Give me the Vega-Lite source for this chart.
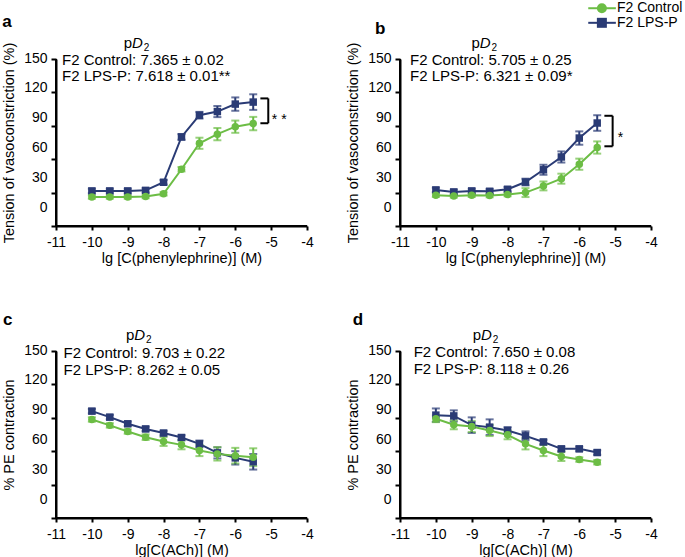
{
  "$schema": "https://vega.github.io/schema/vega-lite/v6.json",
  "padding": 0,
  "background": "white",
  "datasets": {
    "resp": [
      {"panel":"a","group":"F2 LPS-P","conc":-10,"mean":31.5,"sem":2},
      {"panel":"a","group":"F2 LPS-P","conc":-9.5,"mean":31.5,"sem":2},
      {"panel":"a","group":"F2 LPS-P","conc":-9,"mean":31.5,"sem":2},
      {"panel":"a","group":"F2 LPS-P","conc":-8.5,"mean":32,"sem":2},
      {"panel":"a","group":"F2 LPS-P","conc":-8,"mean":39.3,"sem":2},
      {"panel":"a","group":"F2 LPS-P","conc":-7.5,"mean":80,"sem":2.5},
      {"panel":"a","group":"F2 LPS-P","conc":-7,"mean":99.5,"sem":3},
      {"panel":"a","group":"F2 LPS-P","conc":-6.5,"mean":102.8,"sem":5},
      {"panel":"a","group":"F2 LPS-P","conc":-6,"mean":109.5,"sem":6},
      {"panel":"a","group":"F2 LPS-P","conc":-5.5,"mean":111.3,"sem":7},
      {"panel":"a","group":"F2 Control","conc":-10,"mean":26,"sem":1.5},
      {"panel":"a","group":"F2 Control","conc":-9.5,"mean":26,"sem":1.5},
      {"panel":"a","group":"F2 Control","conc":-9,"mean":26,"sem":1.5},
      {"panel":"a","group":"F2 Control","conc":-8.5,"mean":26.4,"sem":1.5},
      {"panel":"a","group":"F2 Control","conc":-8,"mean":28.9,"sem":1.5},
      {"panel":"a","group":"F2 Control","conc":-7.5,"mean":51,"sem":2},
      {"panel":"a","group":"F2 Control","conc":-7,"mean":74.3,"sem":5},
      {"panel":"a","group":"F2 Control","conc":-6.5,"mean":82.5,"sem":5.5},
      {"panel":"a","group":"F2 Control","conc":-6,"mean":89.2,"sem":5.5},
      {"panel":"a","group":"F2 Control","conc":-5.5,"mean":92,"sem":6},
      {"panel":"b","group":"F2 LPS-P","conc":-10,"mean":32.4,"sem":2},
      {"panel":"b","group":"F2 LPS-P","conc":-9.5,"mean":30.6,"sem":2},
      {"panel":"b","group":"F2 LPS-P","conc":-9,"mean":31.5,"sem":2},
      {"panel":"b","group":"F2 LPS-P","conc":-8.5,"mean":31.2,"sem":2},
      {"panel":"b","group":"F2 LPS-P","conc":-8,"mean":33,"sem":2},
      {"panel":"b","group":"F2 LPS-P","conc":-7.5,"mean":39.5,"sem":3},
      {"panel":"b","group":"F2 LPS-P","conc":-7,"mean":50.5,"sem":4.5},
      {"panel":"b","group":"F2 LPS-P","conc":-6.5,"mean":62,"sem":5},
      {"panel":"b","group":"F2 LPS-P","conc":-6,"mean":79,"sem":6},
      {"panel":"b","group":"F2 LPS-P","conc":-5.5,"mean":92.5,"sem":7},
      {"panel":"b","group":"F2 Control","conc":-10,"mean":27.6,"sem":1.5},
      {"panel":"b","group":"F2 Control","conc":-9.5,"mean":27,"sem":1.5},
      {"panel":"b","group":"F2 Control","conc":-9,"mean":27.6,"sem":1.5},
      {"panel":"b","group":"F2 Control","conc":-8.5,"mean":27.3,"sem":1.5},
      {"panel":"b","group":"F2 Control","conc":-8,"mean":28.2,"sem":1.5},
      {"panel":"b","group":"F2 Control","conc":-7.5,"mean":30,"sem":4},
      {"panel":"b","group":"F2 Control","conc":-7,"mean":36,"sem":4},
      {"panel":"b","group":"F2 Control","conc":-6.5,"mean":42.5,"sem":4.5},
      {"panel":"b","group":"F2 Control","conc":-6,"mean":55.5,"sem":5},
      {"panel":"b","group":"F2 Control","conc":-5.5,"mean":70.5,"sem":5.5},
      {"panel":"c","group":"F2 LPS-P","conc":-10,"mean":96,"sem":2},
      {"panel":"c","group":"F2 LPS-P","conc":-9.5,"mean":90.6,"sem":2},
      {"panel":"c","group":"F2 LPS-P","conc":-9,"mean":84.6,"sem":2},
      {"panel":"c","group":"F2 LPS-P","conc":-8.5,"mean":80,"sem":2},
      {"panel":"c","group":"F2 LPS-P","conc":-8,"mean":76.3,"sem":2},
      {"panel":"c","group":"F2 LPS-P","conc":-7.5,"mean":72.3,"sem":2},
      {"panel":"c","group":"F2 LPS-P","conc":-7,"mean":66.6,"sem":3},
      {"panel":"c","group":"F2 LPS-P","conc":-6.5,"mean":58.5,"sem":5},
      {"panel":"c","group":"F2 LPS-P","conc":-6,"mean":54,"sem":6},
      {"panel":"c","group":"F2 LPS-P","conc":-5.5,"mean":50.5,"sem":7},
      {"panel":"c","group":"F2 Control","conc":-10,"mean":88.5,"sem":2},
      {"panel":"c","group":"F2 Control","conc":-9.5,"mean":83.2,"sem":2},
      {"panel":"c","group":"F2 Control","conc":-9,"mean":77.7,"sem":2},
      {"panel":"c","group":"F2 Control","conc":-8.5,"mean":72.6,"sem":2.5},
      {"panel":"c","group":"F2 Control","conc":-8,"mean":68.7,"sem":4},
      {"panel":"c","group":"F2 Control","conc":-7.5,"mean":65.7,"sem":4},
      {"panel":"c","group":"F2 Control","conc":-7,"mean":60.6,"sem":5},
      {"panel":"c","group":"F2 Control","conc":-6.5,"mean":57.6,"sem":6},
      {"panel":"c","group":"F2 Control","conc":-6,"mean":56,"sem":7},
      {"panel":"c","group":"F2 Control","conc":-5.5,"mean":54.6,"sem":8},
      {"panel":"d","group":"F2 LPS-P","conc":-10,"mean":92.4,"sem":6},
      {"panel":"d","group":"F2 LPS-P","conc":-9.5,"mean":91.7,"sem":5},
      {"panel":"d","group":"F2 LPS-P","conc":-9,"mean":83.4,"sem":7},
      {"panel":"d","group":"F2 LPS-P","conc":-8.5,"mean":81.6,"sem":7},
      {"panel":"d","group":"F2 LPS-P","conc":-8,"mean":78.6,"sem":3},
      {"panel":"d","group":"F2 LPS-P","conc":-7.5,"mean":73.8,"sem":4},
      {"panel":"d","group":"F2 LPS-P","conc":-7,"mean":68.3,"sem":2},
      {"panel":"d","group":"F2 LPS-P","conc":-6.5,"mean":62.1,"sem":2},
      {"panel":"d","group":"F2 LPS-P","conc":-6,"mean":62.1,"sem":2},
      {"panel":"d","group":"F2 LPS-P","conc":-5.5,"mean":58.8,"sem":2},
      {"panel":"d","group":"F2 Control","conc":-10,"mean":89.1,"sem":3},
      {"panel":"d","group":"F2 Control","conc":-9.5,"mean":83.7,"sem":4},
      {"panel":"d","group":"F2 Control","conc":-9,"mean":82.2,"sem":5},
      {"panel":"d","group":"F2 Control","conc":-8.5,"mean":78.6,"sem":5},
      {"panel":"d","group":"F2 Control","conc":-8,"mean":74.7,"sem":4},
      {"panel":"d","group":"F2 Control","conc":-7.5,"mean":66.6,"sem":5},
      {"panel":"d","group":"F2 Control","conc":-7,"mean":60.6,"sem":5},
      {"panel":"d","group":"F2 Control","conc":-6.5,"mean":55.2,"sem":4},
      {"panel":"d","group":"F2 Control","conc":-6,"mean":52.5,"sem":2},
      {"panel":"d","group":"F2 Control","conc":-5.5,"mean":50.1,"sem":2}
    ]
  },
  "columns": 2,
  "spacing": {"row": 125, "column": 93},
  "bounds": "flush",
  "concat": [
    {
      "width": 251, "height": 167,
      "resolve": {"scale": {"x": "independent", "y": "independent"}, "axis": {"x": "independent", "y": "independent"}},
      "layer": [
        {"data": {"name": "resp"}, "transform": [{"filter": "datum.panel === 'a'"}],
         "mark": {"type": "line", "strokeWidth": 2},
         "encoding": {
           "x": {"field": "conc", "type": "quantitative", "scale": {"domain": [-11, -4]},
                 "axis": {"orient": "bottom", "zindex": 2, "values": [-11,-10,-9,-8,-7,-6,-5,-4], "labelExpr": "'' + datum.value", "title": "lg [C(phenylephrine)] (M)", "domain": true, "ticks": true, "grid": false, "domainColor": "#000000", "domainOpacity": 1, "domainWidth": 2, "tickColor": "#000000", "tickOpacity": 1, "tickWidth": 2, "tickSize": 4, "labelPadding": 5, "labelOverlap": false, "labelFlush": false, "titlePadding": 2}},
           "y": {"field": "mean", "type": "quantitative", "scale": {"domain": [0, 150]},
                 "axis": {"orient": "left", "zindex": 2, "values": [0,30,60,90,120,150], "title": "Tension of vasoconstriction (%)", "domain": true, "ticks": true, "grid": false, "domainColor": "#000000", "domainOpacity": 1, "domainWidth": 2, "tickColor": "#000000", "tickOpacity": 1, "tickWidth": 2, "tickSize": 5, "labelPadding": 4, "labelOverlap": false, "labelFlush": false, "titlePadding": 7, "labelOffset": {"expr": "-1 - (150 - datum.value) * 0.115"}}},
           "color": {"field": "group", "type": "nominal", "scale": {"domain": ["F2 Control", "F2 LPS-P"], "range": ["#6CBD45", "#2A3B75"]}, "legend": null}
         }},
        {"data": {"name": "resp"}, "transform": [{"filter": "datum.panel === 'a'"}],
         "mark": {"type": "errorbar", "ticks": true, "size": 8, "thickness": 2},
         "encoding": {
           "x": {"field": "conc", "type": "quantitative", "scale": {"domain": [-11, -4]}, "axis": null},
           "y": {"field": "mean", "type": "quantitative", "scale": {"domain": [0, 150]}, "axis": null},
           "yError": {"field": "sem"},
           "color": {"field": "group", "type": "nominal", "legend": null}
         }},
        {"data": {"name": "resp"}, "transform": [{"filter": "datum.panel === 'a'"}],
         "mark": {"type": "point", "filled": true, "size": 56, "opacity": 1},
         "encoding": {
           "x": {"field": "conc", "type": "quantitative", "scale": {"domain": [-11, -4]}, "axis": null},
           "y": {"field": "mean", "type": "quantitative", "scale": {"domain": [0, 150]}, "axis": null},
           "color": {"field": "group", "type": "nominal", "legend": null},
           "shape": {"field": "group", "type": "nominal", "scale": {"domain": ["F2 Control", "F2 LPS-P"], "range": ["circle", "square"]}, "legend": null}
         }},
        {"data": {"values": [{}]}, "mark": {"type": "text", "text": "a", "fontSize": 17, "fontWeight": "bold", "align": "left", "baseline": "alphabetic"},
         "encoding": {"x": {"datum": -12.5, "scale": {"domain": [-11, -4]}, "axis": null}, "y": {"datum": 178.5, "scale": {"domain": [0, 150]}, "axis": null}}},
        {"data": {"values": [{}]}, "mark": {"type": "text", "text": "p", "fontSize": 15, "align": "left", "baseline": "alphabetic"},
         "encoding": {"x": {"datum": -9.11, "scale": {"domain": [-11, -4]}, "axis": null}, "y": {"datum": 160, "scale": {"domain": [0, 150]}, "axis": null}}},
        {"data": {"values": [{}]}, "mark": {"type": "text", "text": "D", "fontSize": 15, "fontStyle": "italic", "align": "left", "baseline": "alphabetic"},
         "encoding": {"x": {"datum": -8.88, "scale": {"domain": [-11, -4]}, "axis": null}, "y": {"datum": 160, "scale": {"domain": [0, 150]}, "axis": null}}},
        {"data": {"values": [{}]}, "mark": {"type": "text", "text": "2", "fontSize": 10, "align": "left", "baseline": "alphabetic"},
         "encoding": {"x": {"datum": -8.55, "scale": {"domain": [-11, -4]}, "axis": null}, "y": {"datum": 157, "scale": {"domain": [0, 150]}, "axis": null}}},
        {"data": {"values": [{}]}, "mark": {"type": "text", "text": "F2 Control: 7.365 ± 0.02", "fontSize": 15, "align": "left", "baseline": "middle"},
         "encoding": {"x": {"datum": -10.83, "scale": {"domain": [-11, -4]}, "axis": null}, "y": {"datum": 149.4, "scale": {"domain": [0, 150]}, "axis": null}}},
        {"data": {"values": [{}]}, "mark": {"type": "text", "text": "F2 LPS-P: 7.618 ± 0.01**", "fontSize": 15, "align": "left", "baseline": "middle"},
         "encoding": {"x": {"datum": -10.83, "scale": {"domain": [-11, -4]}, "axis": null}, "y": {"datum": 134.4, "scale": {"domain": [0, 150]}, "axis": null}}},
        {"data": {"values": [{}]}, "mark": {"type": "rule", "color": "black", "strokeWidth": 2},
         "encoding": {"x": {"datum": -5.08, "scale": {"domain": [-11, -4]}, "axis": null}, "y": {"datum": 92.3, "scale": {"domain": [0, 150]}, "axis": null}, "y2": {"datum": 114.6}}},
        {"data": {"values": [{}]}, "mark": {"type": "rule", "color": "black", "strokeWidth": 2},
         "encoding": {"x": {"datum": -5.3, "scale": {"domain": [-11, -4]}, "axis": null}, "x2": {"datum": -5.08}, "y": {"datum": 114.6, "scale": {"domain": [0, 150]}, "axis": null}}},
        {"data": {"values": [{}]}, "mark": {"type": "rule", "color": "black", "strokeWidth": 2},
         "encoding": {"x": {"datum": -5.3, "scale": {"domain": [-11, -4]}, "axis": null}, "x2": {"datum": -5.08}, "y": {"datum": 92.3, "scale": {"domain": [0, 150]}, "axis": null}}},
        {"data": {"values": [{}]}, "mark": {"type": "text", "text": "* *", "fontSize": 14, "align": "left", "baseline": "alphabetic"},
         "encoding": {"x": {"datum": -4.98, "scale": {"domain": [-11, -4]}, "axis": null}, "y": {"datum": 92, "scale": {"domain": [0, 150]}, "axis": null}}}
      ]
    },
    {
      "width": 251, "height": 167,
      "resolve": {"scale": {"x": "independent", "y": "independent"}, "axis": {"x": "independent", "y": "independent"}},
      "layer": [
        {"data": {"name": "resp"}, "transform": [{"filter": "datum.panel === 'b'"}],
         "mark": {"type": "line", "strokeWidth": 2},
         "encoding": {
           "x": {"field": "conc", "type": "quantitative", "scale": {"domain": [-11, -4]},
                 "axis": {"orient": "bottom", "zindex": 2, "values": [-11,-10,-9,-8,-7,-6,-5,-4], "labelExpr": "'' + datum.value", "title": "lg [C(phenylephrine)] (M)", "domain": true, "ticks": true, "grid": false, "domainColor": "#000000", "domainOpacity": 1, "domainWidth": 2, "tickColor": "#000000", "tickOpacity": 1, "tickWidth": 2, "tickSize": 4, "labelPadding": 5, "labelOverlap": false, "labelFlush": false, "titlePadding": 2}},
           "y": {"field": "mean", "type": "quantitative", "scale": {"domain": [0, 150]},
                 "axis": {"orient": "left", "zindex": 2, "values": [0,30,60,90,120,150], "title": "Tension of vasoconstriction (%)", "domain": true, "ticks": true, "grid": false, "domainColor": "#000000", "domainOpacity": 1, "domainWidth": 2, "tickColor": "#000000", "tickOpacity": 1, "tickWidth": 2, "tickSize": 5, "labelPadding": 4, "labelOverlap": false, "labelFlush": false, "titlePadding": 7, "labelOffset": {"expr": "-1 - (150 - datum.value) * 0.115"}}},
           "color": {"field": "group", "type": "nominal", "scale": {"domain": ["F2 Control", "F2 LPS-P"], "range": ["#6CBD45", "#2A3B75"]}, "legend": null}
         }},
        {"data": {"name": "resp"}, "transform": [{"filter": "datum.panel === 'b'"}],
         "mark": {"type": "errorbar", "ticks": true, "size": 8, "thickness": 2},
         "encoding": {
           "x": {"field": "conc", "type": "quantitative", "scale": {"domain": [-11, -4]}, "axis": null},
           "y": {"field": "mean", "type": "quantitative", "scale": {"domain": [0, 150]}, "axis": null},
           "yError": {"field": "sem"},
           "color": {"field": "group", "type": "nominal", "legend": null}
         }},
        {"data": {"name": "resp"}, "transform": [{"filter": "datum.panel === 'b'"}],
         "mark": {"type": "point", "filled": true, "size": 56, "opacity": 1},
         "encoding": {
           "x": {"field": "conc", "type": "quantitative", "scale": {"domain": [-11, -4]}, "axis": null},
           "y": {"field": "mean", "type": "quantitative", "scale": {"domain": [0, 150]}, "axis": null},
           "color": {"field": "group", "type": "nominal", "legend": null},
           "shape": {"field": "group", "type": "nominal", "scale": {"domain": ["F2 Control", "F2 LPS-P"], "range": ["circle", "square"]}, "legend": null}
         }},
        {"data": {"values": [{}]}, "mark": {"type": "rule", "color": "#6CBD45", "strokeWidth": 2},
         "encoding": {"x": {"datum": -5.75, "scale": {"domain": [-11, -4]}, "axis": null}, "x2": {"datum": -4.98}, "y": {"datum": 195.6, "scale": {"domain": [0, 150]}, "axis": null}}},
        {"data": {"values": [{}]}, "mark": {"type": "point", "shape": "circle", "filled": true, "size": 100, "opacity": 1, "color": "#6CBD45"},
         "encoding": {"x": {"datum": -5.37, "scale": {"domain": [-11, -4]}, "axis": null}, "y": {"datum": 195.6, "scale": {"domain": [0, 150]}, "axis": null}}},
        {"data": {"values": [{}]}, "mark": {"type": "text", "text": "F2 Control", "fontSize": 14, "align": "left", "baseline": "middle"},
         "encoding": {"x": {"datum": -4.95, "scale": {"domain": [-11, -4]}, "axis": null}, "y": {"datum": 195.6, "scale": {"domain": [0, 150]}, "axis": null}}},
        {"data": {"values": [{}]}, "mark": {"type": "rule", "color": "#2A3B75", "strokeWidth": 2},
         "encoding": {"x": {"datum": -5.75, "scale": {"domain": [-11, -4]}, "axis": null}, "x2": {"datum": -4.98}, "y": {"datum": 182.5, "scale": {"domain": [0, 150]}, "axis": null}}},
        {"data": {"values": [{}]}, "mark": {"type": "point", "shape": "square", "filled": true, "size": 100, "opacity": 1, "color": "#2A3B75"},
         "encoding": {"x": {"datum": -5.37, "scale": {"domain": [-11, -4]}, "axis": null}, "y": {"datum": 182.5, "scale": {"domain": [0, 150]}, "axis": null}}},
        {"data": {"values": [{}]}, "mark": {"type": "text", "text": "F2 LPS-P", "fontSize": 14, "align": "left", "baseline": "middle"},
         "encoding": {"x": {"datum": -4.95, "scale": {"domain": [-11, -4]}, "axis": null}, "y": {"datum": 182.5, "scale": {"domain": [0, 150]}, "axis": null}}},
        {"data": {"values": [{}]}, "mark": {"type": "text", "text": "b", "fontSize": 17, "fontWeight": "bold", "align": "left", "baseline": "alphabetic"},
         "encoding": {"x": {"datum": -11.7, "scale": {"domain": [-11, -4]}, "axis": null}, "y": {"datum": 172.4, "scale": {"domain": [0, 150]}, "axis": null}}},
        {"data": {"values": [{}]}, "mark": {"type": "text", "text": "p", "fontSize": 15, "align": "left", "baseline": "alphabetic"},
         "encoding": {"x": {"datum": -9.006, "scale": {"domain": [-11, -4]}, "axis": null}, "y": {"datum": 160, "scale": {"domain": [0, 150]}, "axis": null}}},
        {"data": {"values": [{}]}, "mark": {"type": "text", "text": "D", "fontSize": 15, "fontStyle": "italic", "align": "left", "baseline": "alphabetic"},
         "encoding": {"x": {"datum": -8.775, "scale": {"domain": [-11, -4]}, "axis": null}, "y": {"datum": 160, "scale": {"domain": [0, 150]}, "axis": null}}},
        {"data": {"values": [{}]}, "mark": {"type": "text", "text": "2", "fontSize": 10, "align": "left", "baseline": "alphabetic"},
         "encoding": {"x": {"datum": -8.445, "scale": {"domain": [-11, -4]}, "axis": null}, "y": {"datum": 157, "scale": {"domain": [0, 150]}, "axis": null}}},
        {"data": {"values": [{}]}, "mark": {"type": "text", "text": "F2 Control: 5.705 ± 0.25", "fontSize": 15, "align": "left", "baseline": "middle"},
         "encoding": {"x": {"datum": -10.72, "scale": {"domain": [-11, -4]}, "axis": null}, "y": {"datum": 149.4, "scale": {"domain": [0, 150]}, "axis": null}}},
        {"data": {"values": [{}]}, "mark": {"type": "text", "text": "F2 LPS-P: 6.321 ± 0.09*", "fontSize": 15, "align": "left", "baseline": "middle"},
         "encoding": {"x": {"datum": -10.72, "scale": {"domain": [-11, -4]}, "axis": null}, "y": {"datum": 134.4, "scale": {"domain": [0, 150]}, "axis": null}}},
        {"data": {"values": [{}]}, "mark": {"type": "rule", "color": "black", "strokeWidth": 2},
         "encoding": {"x": {"datum": -5.07, "scale": {"domain": [-11, -4]}, "axis": null}, "y": {"datum": 71.6, "scale": {"domain": [0, 150]}, "axis": null}, "y2": {"datum": 99}}},
        {"data": {"values": [{}]}, "mark": {"type": "rule", "color": "black", "strokeWidth": 2},
         "encoding": {"x": {"datum": -5.3, "scale": {"domain": [-11, -4]}, "axis": null}, "x2": {"datum": -5.07}, "y": {"datum": 99, "scale": {"domain": [0, 150]}, "axis": null}}},
        {"data": {"values": [{}]}, "mark": {"type": "rule", "color": "black", "strokeWidth": 2},
         "encoding": {"x": {"datum": -5.3, "scale": {"domain": [-11, -4]}, "axis": null}, "x2": {"datum": -5.07}, "y": {"datum": 71.6, "scale": {"domain": [0, 150]}, "axis": null}}},
        {"data": {"values": [{}]}, "mark": {"type": "text", "text": "*", "fontSize": 14, "align": "left", "baseline": "alphabetic"},
         "encoding": {"x": {"datum": -4.93, "scale": {"domain": [-11, -4]}, "axis": null}, "y": {"datum": 75.2, "scale": {"domain": [0, 150]}, "axis": null}}}
      ]
    },
    {
      "width": 251, "height": 167,
      "resolve": {"scale": {"x": "independent", "y": "independent"}, "axis": {"x": "independent", "y": "independent"}},
      "layer": [
        {"data": {"name": "resp"}, "transform": [{"filter": "datum.panel === 'c'"}],
         "mark": {"type": "line", "strokeWidth": 2},
         "encoding": {
           "x": {"field": "conc", "type": "quantitative", "scale": {"domain": [-11, -4]},
                 "axis": {"orient": "bottom", "zindex": 2, "values": [-11,-10,-9,-8,-7,-6,-5,-4], "labelExpr": "'' + datum.value", "title": "lg[C(ACh)] (M)", "domain": true, "ticks": true, "grid": false, "domainColor": "#000000", "domainOpacity": 1, "domainWidth": 2, "tickColor": "#000000", "tickOpacity": 1, "tickWidth": 2, "tickSize": 4, "labelPadding": 5, "labelOverlap": false, "labelFlush": false, "titlePadding": 2}},
           "y": {"field": "mean", "type": "quantitative", "scale": {"domain": [0, 150]},
                 "axis": {"orient": "left", "zindex": 2, "values": [0,30,60,90,120,150], "title": "% PE contraction", "domain": true, "ticks": true, "grid": false, "domainColor": "#000000", "domainOpacity": 1, "domainWidth": 2, "tickColor": "#000000", "tickOpacity": 1, "tickWidth": 2, "tickSize": 5, "labelPadding": 4, "labelOverlap": false, "labelFlush": false, "titlePadding": 7, "labelOffset": {"expr": "-1 - (150 - datum.value) * 0.115"}}},
           "color": {"field": "group", "type": "nominal", "scale": {"domain": ["F2 Control", "F2 LPS-P"], "range": ["#6CBD45", "#2A3B75"]}, "legend": null}
         }},
        {"data": {"name": "resp"}, "transform": [{"filter": "datum.panel === 'c'"}],
         "mark": {"type": "errorbar", "ticks": true, "size": 8, "thickness": 2},
         "encoding": {
           "x": {"field": "conc", "type": "quantitative", "scale": {"domain": [-11, -4]}, "axis": null},
           "y": {"field": "mean", "type": "quantitative", "scale": {"domain": [0, 150]}, "axis": null},
           "yError": {"field": "sem"},
           "color": {"field": "group", "type": "nominal", "legend": null}
         }},
        {"data": {"name": "resp"}, "transform": [{"filter": "datum.panel === 'c'"}],
         "mark": {"type": "point", "filled": true, "size": 56, "opacity": 1},
         "encoding": {
           "x": {"field": "conc", "type": "quantitative", "scale": {"domain": [-11, -4]}, "axis": null},
           "y": {"field": "mean", "type": "quantitative", "scale": {"domain": [0, 150]}, "axis": null},
           "color": {"field": "group", "type": "nominal", "legend": null},
           "shape": {"field": "group", "type": "nominal", "scale": {"domain": ["F2 Control", "F2 LPS-P"], "range": ["circle", "square"]}, "legend": null}
         }},
        {"data": {"values": [{}]}, "mark": {"type": "text", "text": "c", "fontSize": 17, "fontWeight": "bold", "align": "left", "baseline": "alphabetic"},
         "encoding": {"x": {"datum": -12.48, "scale": {"domain": [-11, -4]}, "axis": null}, "y": {"datum": 173.2, "scale": {"domain": [0, 150]}, "axis": null}}},
        {"data": {"values": [{}]}, "mark": {"type": "text", "text": "p", "fontSize": 15, "align": "left", "baseline": "alphabetic"},
         "encoding": {"x": {"datum": -9.05, "scale": {"domain": [-11, -4]}, "axis": null}, "y": {"datum": 160, "scale": {"domain": [0, 150]}, "axis": null}}},
        {"data": {"values": [{}]}, "mark": {"type": "text", "text": "D", "fontSize": 15, "fontStyle": "italic", "align": "left", "baseline": "alphabetic"},
         "encoding": {"x": {"datum": -8.82, "scale": {"domain": [-11, -4]}, "axis": null}, "y": {"datum": 160, "scale": {"domain": [0, 150]}, "axis": null}}},
        {"data": {"values": [{}]}, "mark": {"type": "text", "text": "2", "fontSize": 10, "align": "left", "baseline": "alphabetic"},
         "encoding": {"x": {"datum": -8.49, "scale": {"domain": [-11, -4]}, "axis": null}, "y": {"datum": 157, "scale": {"domain": [0, 150]}, "axis": null}}},
        {"data": {"values": [{}]}, "mark": {"type": "text", "text": "F2 Control: 9.703 ± 0.22", "fontSize": 15, "align": "left", "baseline": "middle"},
         "encoding": {"x": {"datum": -10.79, "scale": {"domain": [-11, -4]}, "axis": null}, "y": {"datum": 148.5, "scale": {"domain": [0, 150]}, "axis": null}}},
        {"data": {"values": [{}]}, "mark": {"type": "text", "text": "F2 LPS-P: 8.262 ± 0.05", "fontSize": 15, "align": "left", "baseline": "middle"},
         "encoding": {"x": {"datum": -10.79, "scale": {"domain": [-11, -4]}, "axis": null}, "y": {"datum": 133, "scale": {"domain": [0, 150]}, "axis": null}}}
      ]
    },
    {
      "width": 251, "height": 167,
      "resolve": {"scale": {"x": "independent", "y": "independent"}, "axis": {"x": "independent", "y": "independent"}},
      "layer": [
        {"data": {"name": "resp"}, "transform": [{"filter": "datum.panel === 'd'"}],
         "mark": {"type": "line", "strokeWidth": 2},
         "encoding": {
           "x": {"field": "conc", "type": "quantitative", "scale": {"domain": [-11, -4]},
                 "axis": {"orient": "bottom", "zindex": 2, "values": [-11,-10,-9,-8,-7,-6,-5,-4], "labelExpr": "'' + datum.value", "title": "lg[C(ACh)] (M)", "domain": true, "ticks": true, "grid": false, "domainColor": "#000000", "domainOpacity": 1, "domainWidth": 2, "tickColor": "#000000", "tickOpacity": 1, "tickWidth": 2, "tickSize": 4, "labelPadding": 5, "labelOverlap": false, "labelFlush": false, "titlePadding": 2}},
           "y": {"field": "mean", "type": "quantitative", "scale": {"domain": [0, 150]},
                 "axis": {"orient": "left", "zindex": 2, "values": [0,30,60,90,120,150], "title": "% PE contraction", "domain": true, "ticks": true, "grid": false, "domainColor": "#000000", "domainOpacity": 1, "domainWidth": 2, "tickColor": "#000000", "tickOpacity": 1, "tickWidth": 2, "tickSize": 5, "labelPadding": 4, "labelOverlap": false, "labelFlush": false, "titlePadding": 7, "labelOffset": {"expr": "-1 - (150 - datum.value) * 0.115"}}},
           "color": {"field": "group", "type": "nominal", "scale": {"domain": ["F2 Control", "F2 LPS-P"], "range": ["#6CBD45", "#2A3B75"]}, "legend": null}
         }},
        {"data": {"name": "resp"}, "transform": [{"filter": "datum.panel === 'd'"}],
         "mark": {"type": "errorbar", "ticks": true, "size": 8, "thickness": 2},
         "encoding": {
           "x": {"field": "conc", "type": "quantitative", "scale": {"domain": [-11, -4]}, "axis": null},
           "y": {"field": "mean", "type": "quantitative", "scale": {"domain": [0, 150]}, "axis": null},
           "yError": {"field": "sem"},
           "color": {"field": "group", "type": "nominal", "legend": null}
         }},
        {"data": {"name": "resp"}, "transform": [{"filter": "datum.panel === 'd'"}],
         "mark": {"type": "point", "filled": true, "size": 56, "opacity": 1},
         "encoding": {
           "x": {"field": "conc", "type": "quantitative", "scale": {"domain": [-11, -4]}, "axis": null},
           "y": {"field": "mean", "type": "quantitative", "scale": {"domain": [0, 150]}, "axis": null},
           "color": {"field": "group", "type": "nominal", "legend": null},
           "shape": {"field": "group", "type": "nominal", "scale": {"domain": ["F2 Control", "F2 LPS-P"], "range": ["circle", "square"]}, "legend": null}
         }},
        {"data": {"values": [{}]}, "mark": {"type": "text", "text": "d", "fontSize": 17, "fontWeight": "bold", "align": "left", "baseline": "alphabetic"},
         "encoding": {"x": {"datum": -12.32, "scale": {"domain": [-11, -4]}, "axis": null}, "y": {"datum": 173.2, "scale": {"domain": [0, 150]}, "axis": null}}},
        {"data": {"values": [{}]}, "mark": {"type": "text", "text": "p", "fontSize": 15, "align": "left", "baseline": "alphabetic"},
         "encoding": {"x": {"datum": -8.97, "scale": {"domain": [-11, -4]}, "axis": null}, "y": {"datum": 160, "scale": {"domain": [0, 150]}, "axis": null}}},
        {"data": {"values": [{}]}, "mark": {"type": "text", "text": "D", "fontSize": 15, "fontStyle": "italic", "align": "left", "baseline": "alphabetic"},
         "encoding": {"x": {"datum": -8.74, "scale": {"domain": [-11, -4]}, "axis": null}, "y": {"datum": 160, "scale": {"domain": [0, 150]}, "axis": null}}},
        {"data": {"values": [{}]}, "mark": {"type": "text", "text": "2", "fontSize": 10, "align": "left", "baseline": "alphabetic"},
         "encoding": {"x": {"datum": -8.41, "scale": {"domain": [-11, -4]}, "axis": null}, "y": {"datum": 157, "scale": {"domain": [0, 150]}, "axis": null}}},
        {"data": {"values": [{}]}, "mark": {"type": "text", "text": "F2 Control: 7.650 ± 0.08", "fontSize": 15, "align": "left", "baseline": "middle"},
         "encoding": {"x": {"datum": -10.62, "scale": {"domain": [-11, -4]}, "axis": null}, "y": {"datum": 149, "scale": {"domain": [0, 150]}, "axis": null}}},
        {"data": {"values": [{}]}, "mark": {"type": "text", "text": "F2 LPS-P: 8.118 ± 0.26", "fontSize": 15, "align": "left", "baseline": "middle"},
         "encoding": {"x": {"datum": -10.62, "scale": {"domain": [-11, -4]}, "axis": null}, "y": {"datum": 133.5, "scale": {"domain": [0, 150]}, "axis": null}}}
      ]
    }
  ],
  "config": {
    "font": "Liberation Sans",
    "view": {"stroke": "#000000", "strokeWidth": 2, "strokeDash": [0, 418, 418], "strokeOpacity": 1},
    "text": {"color": "black", "font": "Liberation Sans"},
    "axis": {"grid": false, "domainColor": "#000000", "domainWidth": 2, "tickColor": "#000000", "tickWidth": 2,
             "labelOverlap": false, "labelFlush": false,
             "labelFont": "Liberation Sans", "labelFontSize": 14, "labelColor": "black",
             "titleFont": "Liberation Sans", "titleFontSize": 14.5, "titleFontWeight": "normal", "titleColor": "black"}
  }
}
